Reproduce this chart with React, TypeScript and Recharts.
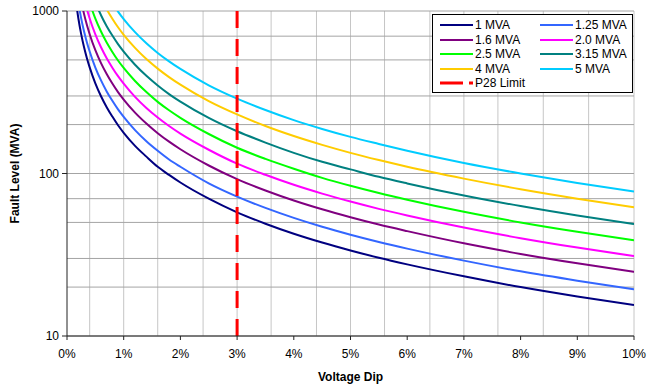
import React from "react";
import {
  LineChart,
  Line,
  XAxis,
  YAxis,
  CartesianGrid,
  Label,
} from "recharts";

// voltage dip (%) at which each curve was read
const dipPct = [
  0.15, 0.2, 0.25, 0.3, 0.35, 0.4, 0.5, 0.6, 0.7, 0.8, 0.9, 1, 1.2, 1.4, 1.6,
  1.8, 2, 2.5, 3, 3.5, 4, 4.5, 5, 5.5, 6, 7, 8, 9, 10,
];

// fault level (MVA) per transformer size
const mva1 = [
  1203, 902, 721, 600, 514, 450, 359, 299, 256, 224, 198, 178, 148, 127, 110,
  98, 88, 70, 57.7, 49.1, 42.6, 37.6, 33.6, 30.3, 27.6, 23.3, 20.0, 17.5, 15.5,
];
const mva125 = [
  1504, 1128, 901, 750, 643, 563, 449, 374, 320, 280, 248, 223, 185, 158, 138,
  122, 110, 87, 72.1, 61.4, 53.3, 47.0, 42.0, 37.9, 34.5, 29.1, 25.0, 21.9, 19.4,
];
const mva16 = [
  1925, 1443, 1154, 960, 822, 720, 574, 478, 410, 358, 317, 285, 237, 203, 177,
  157, 141, 112, 92.3, 78.6, 68.2, 60.2, 53.8, 48.5, 44.2, 37.2, 32.0, 28.0, 24.8,
];
const mva20 = [
  2406, 1804, 1442, 1200, 1028, 900, 718, 598, 512, 448, 397, 357, 296, 253, 221,
  196, 176, 140, 115, 98.2, 85.2, 75.2, 67.2, 60.6, 55.2, 46.5, 40.0, 35.0, 31.0,
];
const mva25 = [
  3008, 2255, 1803, 1500, 1285, 1125, 898, 748, 640, 560, 496, 446, 371, 317, 276,
  245, 220, 175, 144, 123, 107, 94.0, 84.0, 75.8, 69.0, 58.1, 50.0, 43.8, 38.8,
];
const mva315 = [
  3789, 2841, 2271, 1890, 1619, 1418, 1131, 942, 806, 706, 625, 562, 467, 399, 348,
  308, 277, 220, 182, 155, 134, 118, 106, 95.4, 86.9, 73.2, 63.0, 55.1, 48.8,
];
const mva4 = [
  4812, 3608, 2884, 2400, 2056, 1800, 1436, 1196, 1024, 896, 794, 713, 593, 506, 442,
  392, 352, 279, 231, 196, 170, 150, 134, 121, 110, 93.0, 80.0, 70.0, 62.0,
];
const mva5 = [
  6015, 4510, 3605, 3000, 2570, 2250, 1795, 1495, 1280, 1120, 992, 892, 741, 633, 552,
  490, 440, 349, 289, 246, 213, 188, 168, 152, 138, 116, 100, 87.5, 77.5,
];

// P28 limit line
const p28Dip = [3, 3];
const p28Level = [1000, 10];

const seriesNames = [
  "1 MVA", "1.25 MVA", "1.6 MVA", "2.0 MVA", "2.5 MVA", "3.15 MVA", "4 MVA", "5 MVA",
];
const seriesColors = [
  "#000080", "#3366FF", "#800080", "#FF00FF", "#00FF00", "#008080", "#FFCC00", "#00CCFF",
];
const seriesValues = [mva1, mva125, mva16, mva20, mva25, mva315, mva4, mva5];

const xTicks = [0, 1, 2, 3, 4, 5, 6, 7, 8, 9, 10];
const yTicks = [10, 100, 1000];

const data = dipPct.map((d, i) => {
  const row: Record<string, number> = { x: d };
  seriesValues.forEach((vals, s) => {
    row["s" + s] = vals[i];
  });
  return row;
});
const p28Data = p28Dip.map((d, i) => ({ x: d, y: p28Level[i] }));

const vGrid: number[] = [];
for (let i = 0; i <= 50; i++) vGrid.push(+(i * 0.2).toFixed(1));
const hGrid: number[] = [];
[10, 100].forEach((dec) => {
  for (let m = 1; m <= 9; m++) hGrid.push(dec * m);
});
hGrid.push(1000);

const font = "'Liberation Sans', Arial, sans-serif";

const LegendBox = () => {
  const items = seriesNames.map((n, i) => ({ name: n, color: seriesColors[i] }));
  return (
    <div
      style={{
        position: "absolute",
        left: 432,
        top: 14,
        width: 199,
        height: 77,
        border: "1px solid #000",
        background: "#fff",
        fontFamily: font,
        fontSize: 12,
        color: "#000",
      }}
    >
      {items.map((it, i) => {
        const col = i % 2;
        const row = Math.floor(i / 2);
        return (
          <div
            key={it.name}
            style={{
              position: "absolute",
              left: col === 0 ? 7 : 107,
              top: 10 + row * 14.6 - 7,
              height: 14,
              display: "flex",
              alignItems: "center",
              whiteSpace: "nowrap",
            }}
          >
            <svg width={33} height={14} style={{ marginRight: 2 }}>
              <line x1={0} y1={7} x2={33} y2={7} stroke={it.color} strokeWidth={2} />
            </svg>
            <span>{it.name}</span>
          </div>
        );
      })}
      <div
        style={{
          position: "absolute",
          left: 7,
          top: 10 + 4 * 14.6 - 7,
          height: 14,
          display: "flex",
          alignItems: "center",
          whiteSpace: "nowrap",
        }}
      >
        <svg width={33} height={14} style={{ marginRight: 2 }}>
          <line
            x1={0}
            y1={7}
            x2={33}
            y2={7}
            stroke="#FF0000"
            strokeWidth={3}
            strokeDasharray="23 6 4 10"
          />
        </svg>
        <span>P28 Limit</span>
      </div>
    </div>
  );
};

export default function App() {
  return (
    <div
      style={{
        position: "absolute",
        left: 0,
        top: 0,
        width: 647,
        height: 385,
        background: "#fff",
        fontFamily: font,
      }}
    >
      <LineChart
        width={647}
        height={385}
        data={data}
        margin={{ top: 11, right: 13, bottom: 0, left: 0 }}
      >
        <CartesianGrid
          horizontal={false}
          verticalValues={vGrid}
          stroke="#c6c6c6"
          strokeWidth={1}
        />
        <CartesianGrid
          vertical={false}
          horizontalValues={hGrid}
          stroke="#a4a4a4"
          strokeWidth={1}
        />
        <XAxis
          dataKey="x"
          type="number"
          domain={[0, 10]}
          ticks={xTicks}
          tickFormatter={(v) => `${v}%`}
          allowDataOverflow
          height={49}
          tickSize={4}
          tickMargin={9}
          stroke="#222"
          tick={{ fill: "#000", fontSize: 12, fontFamily: font }}
        >
          <Label
            content={() => (
              <text
                x={350.5}
                y={381}
                textAnchor="middle"
                fontFamily={font}
                fontSize={12}
                fontWeight="bold"
                fill="#000"
              >
                Voltage Dip
              </text>
            )}
          />
        </XAxis>
        <YAxis
          scale="log"
          domain={[10, 1000]}
          ticks={yTicks}
          allowDataOverflow
          width={67}
          tickSize={5}
          tickMargin={3}
          stroke="#222"
          tick={{ fill: "#000", fontSize: 12, fontFamily: font }}
        >
          <Label
            content={() => (
              <text
                x={15}
                y={173.5}
                transform="rotate(-90 15 173.5)"
                textAnchor="middle"
                dominantBaseline="central"
                fontFamily={font}
                fontSize={12}
                fontWeight="bold"
                fill="#000"
              >
                Fault Level (MVA)
              </text>
            )}
          />
        </YAxis>
        {seriesNames.map((n, i) => (
          <Line
            key={n}
            name={n}
            dataKey={"s" + i}
            type="monotone"
            stroke={seriesColors[i]}
            strokeWidth={2}
            dot={false}
            activeDot={false}
            isAnimationActive={false}
          />
        ))}
        <Line
          name="P28 Limit"
          data={p28Data}
          dataKey="y"
          type="linear"
          stroke="#FF0000"
          strokeWidth={3}
          strokeDasharray="17 11"
          dot={false}
          activeDot={false}
          isAnimationActive={false}
        />
      </LineChart>
      <LegendBox />
    </div>
  );
}
